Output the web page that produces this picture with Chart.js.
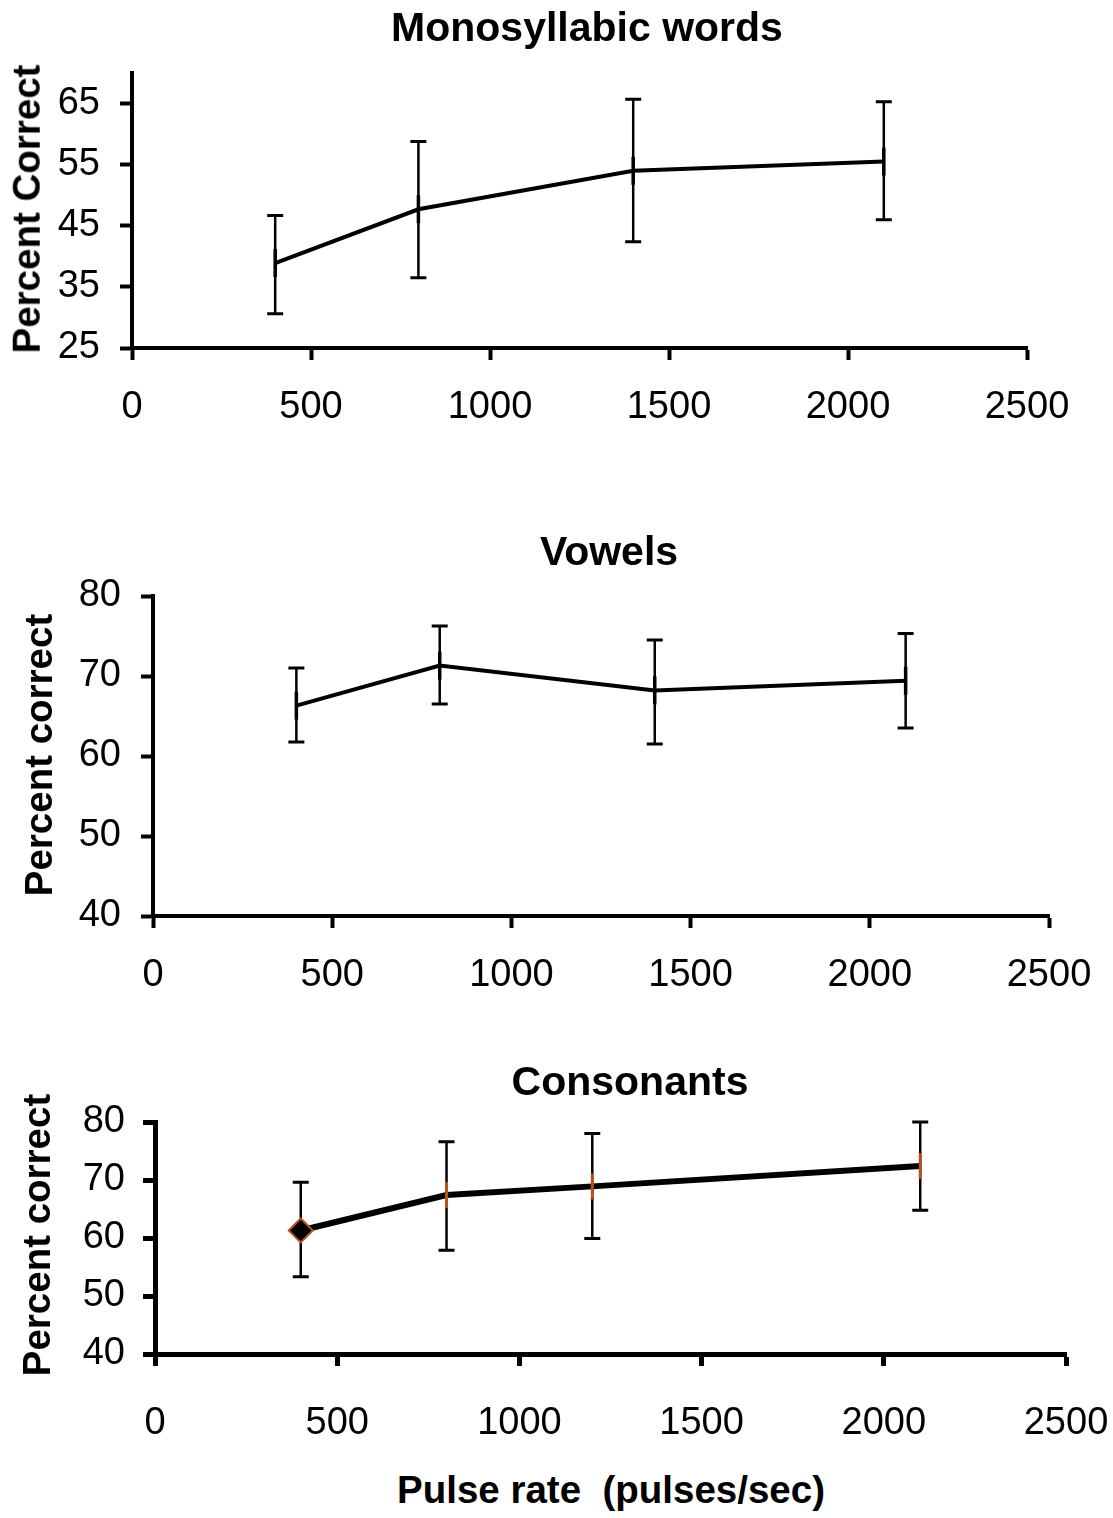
<!DOCTYPE html>
<html>
<head>
<meta charset="utf-8">
<script src="https://cdn.jsdelivr.net/npm/chart.js@4.4.1/dist/chart.umd.min.js"></script>
<style>
  body { margin: 0; background: #fff; width: 1113px; height: 1518px; position: relative; overflow: hidden;
         font-family: 'Liberation Sans', Arial, sans-serif; }
  .panel { position: absolute; left: 0; width: 1200px; }
  .lbl { position: absolute; font-weight: bold; line-height: 1; white-space: nowrap; color: #000;
         transform: translate(-50%, -50%); }
  .rot { transform: translate(-50%, -50%) rotate(-90deg); }
</style>
</head>
<body>
<div class="panel" style="top:0;height:460px"><canvas id="chart-mono"></canvas></div>
<div class="panel" style="top:460px;height:560px"><canvas id="chart-vowels"></canvas></div>
<div class="panel" style="top:1020px;height:420px"><canvas id="chart-cons"></canvas></div>

<div class="lbl" style="left:587px;top:27px;font-size:41px">Monosyllabic words</div>
<div class="lbl" style="left:609px;top:551px;font-size:41px">Vowels</div>
<div class="lbl" style="left:630px;top:1081px;font-size:41px">Consonants</div>
<div class="lbl" style="left:611px;top:1490px;font-size:38.5px">Pulse rate&nbsp;&nbsp;(pulses/sec)</div>
<div class="lbl rot" style="left:27px;top:209px;font-size:38.5px">Percent Correct</div>
<div class="lbl rot" style="left:39px;top:755px;font-size:38.5px">Percent correct</div>
<div class="lbl rot" style="left:37px;top:1235px;font-size:38.5px">Percent correct</div>

<script>
// x axis shared by all three panels
const xTicks = [0, 500, 1000, 1500, 2000, 2500];

// Monosyllabic words
const monoRates = [400, 800, 1400, 2100];
const monoMean = [38.9, 47.7, 54.0, 55.5];
const monoLow = [30.6, 36.5, 42.4, 46.0];
const monoHigh = [46.7, 58.8, 65.7, 65.3];
const monoTicks = [25, 35, 45, 55, 65];

// Vowels
const vowelRates = [400, 800, 1400, 2100];
const vowelMean = [66.3, 71.3, 68.2, 69.4];
const vowelLow = [61.75, 66.5, 61.5, 63.5];
const vowelHigh = [71.0, 76.25, 74.5, 75.3];
const vowelTicks = [40, 50, 60, 70, 80];

// Consonants
const consRates = [400, 800, 1200, 2100];
const consMean = [61.3, 67.4, 68.9, 72.4];
const consLow = [53.3, 57.9, 59.9, 64.8];
const consHigh = [69.6, 76.6, 78.0, 80.0];
const consTicks = [40, 50, 60, 70, 80];

const fontFamily = "'Liberation Sans', Arial, sans-serif";

function errorBars(rates, low, high) {
    return {
        id: 'errorBars',
        beforeDatasetsDraw(chart) {
            const { ctx, scales: { x, y } } = chart;
            ctx.save();
            ctx.strokeStyle = '#000';
            rates.forEach((r, i) => {
                const px = x.getPixelForValue(r);
                const top = y.getPixelForValue(high[i]);
                const bot = y.getPixelForValue(low[i]);
                ctx.lineWidth = 2.5;
                ctx.beginPath();
                ctx.moveTo(px, top);
                ctx.lineTo(px, bot);
                ctx.stroke();
                ctx.lineWidth = 3;
                ctx.beginPath();
                ctx.moveTo(px - 8, top); ctx.lineTo(px + 8, top);
                ctx.moveTo(px - 8, bot); ctx.lineTo(px + 8, bot);
                ctx.stroke();
            });
            ctx.restore();
        },
    };
}

function makePanel(id, p) {
    return new Chart(document.getElementById(id), {
        type: 'line',
        data: {
            datasets: [{
                data: p.rates.map((r, i) => ({ x: r, y: p.mean[i] })),
                borderColor: '#000',
                borderWidth: p.lineWidth,
                tension: 0,
                fill: false,
                pointStyle: p.pointStyle,
                pointRotation: p.pointRotation,
                pointRadius: p.pointRadius,
                pointBackgroundColor: '#000',
                pointBorderColor: p.pointColor,
                pointBorderWidth: p.pointBorderWidth,
            }],
        },
        options: {
            responsive: true,
            maintainAspectRatio: false,
            animation: false,
            events: [],
            layout: { padding: { left: 0, top: p.top, right: p.right, bottom: 0 } },
            plugins: { legend: { display: false }, tooltip: { enabled: false } },
            scales: {
                x: {
                    type: 'linear',
                    min: 0, max: 2500,
                    afterBuildTicks: s => { s.ticks = xTicks.map(v => ({ value: v })); },
                    afterFit: s => { s.height = p.xHeight; },
                    ticks: { color: '#000', padding: p.xPad, maxRotation: 0, autoSkip: false,
                             callback: v => String(v),
                             font: { family: fontFamily, size: 38 } },
                    grid: { drawOnChartArea: false, tickLength: 12, tickWidth: p.axisWidth, tickColor: '#000' },
                    border: { color: '#000', width: p.axisWidth },
                },
                y: {
                    min: p.yMin, max: p.yMax,
                    afterBuildTicks: s => { s.ticks = p.yTicks.map(v => ({ value: v })); },
                    afterFit: s => { s.width = p.left; },
                    ticks: { color: '#000', padding: p.yPad, callback: v => String(v),
                             font: { family: fontFamily, size: 38 } },
                    grid: { drawOnChartArea: false, tickLength: 12, tickWidth: p.axisWidth, tickColor: '#000' },
                    border: { color: '#000', width: p.axisWidth },
                },
            },
        },
        plugins: [errorBars(p.rates, p.low, p.high)],
    });
}

// canvases are 1200px wide (page clips at 1113), so right padding = 1200 - right edge of axis
makePanel('chart-mono', {
    rates: monoRates, mean: monoMean, low: monoLow, high: monoHigh,
    yTicks: monoTicks, yMin: 25, yMax: 70,
    left: 132, right: 173, top: 73, xHeight: 112, xPad: 25, yPad: 20,
    lineWidth: 4, axisWidth: 4,
    pointStyle: 'line', pointRotation: 90, pointRadius: 14, pointColor: '#000', pointBorderWidth: 3.5,
});

makePanel('chart-vowels', {
    rates: vowelRates, mean: vowelMean, low: vowelLow, high: vowelHigh,
    yTicks: vowelTicks, yMin: 40, yMax: 80,
    left: 153, right: 151, top: 136, xHeight: 104, xPad: 25, yPad: 20,
    lineWidth: 4, axisWidth: 4,
    pointStyle: 'line', pointRotation: 90, pointRadius: 14, pointColor: '#000', pointBorderWidth: 3.5,
});

makePanel('chart-cons', {
    rates: consRates, mean: consMean, low: consLow, high: consHigh,
    yTicks: consTicks, yMin: 40, yMax: 80,
    left: 155, right: 134, top: 102, xHeight: 86, xPad: 35, yPad: 18,
    lineWidth: 6, axisWidth: 5,
    pointStyle: ['rectRot', 'line', 'line', 'line'], pointRotation: [0, 90, 90, 90],
    pointRadius: [12, 13, 13, 13], pointColor: '#b5521b', pointBorderWidth: [2, 3, 3, 3],
});
</script>
</body>
</html>
